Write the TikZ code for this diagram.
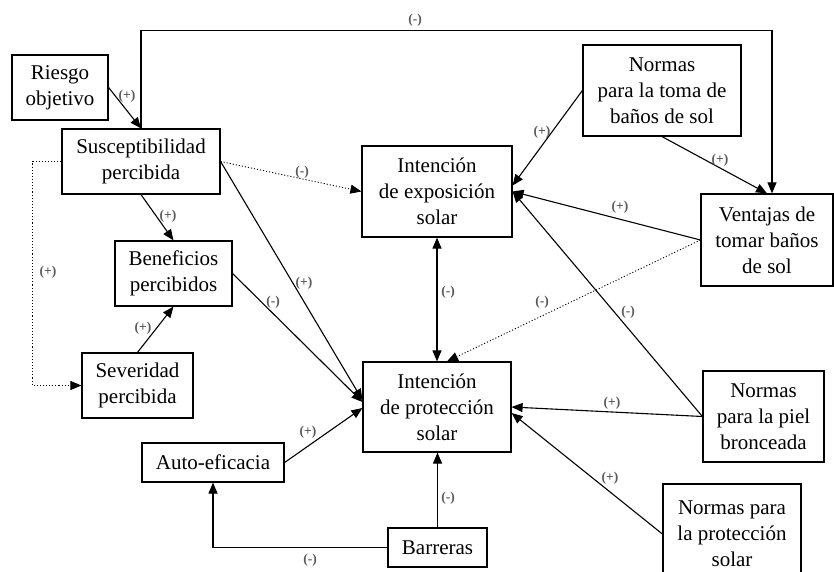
\documentclass[tikz,border=0pt]{standalone}
\usepackage{fontspec}
\setmainfont{Liberation Serif}
\newfontfamily\diagfont{Liberation Serif}
\usetikzlibrary{arrows.meta}
\begin{document}
\begin{tikzpicture}[x=1pt,y=-1pt,
 box/.style={draw, line width=1.2pt, align=center, font=\diagfont\fontsize{21}{26}\selectfont, inner sep=0pt},
 arr/.style={line width=1.1pt, -{Triangle[length=11pt,width=9pt]}},
 arrboth/.style={line width=1.1pt, {Triangle[length=11pt,width=9pt]}-{Triangle[length=11pt,width=9pt]}},
 dot/.style={arr, dotted, line width=0.9pt},
 lab/.style={font=\diagfont\fontsize{13.5}{14}\selectfont\bfseries, text=black!65, inner sep=1pt}
]
\clip (0,0) rectangle (834,572);
\fill[white] (0,0) rectangle (834,572);

% boxes
\node[box, minimum width=96pt, minimum height=65pt] (riesgo) at (60,87.5) {Riesgo\\objetivo};
\node[box, minimum width=158pt, minimum height=65pt] (susc) at (141,161.5) {Susceptibilidad\\percibida};
\node[box, minimum width=150pt, minimum height=91pt] (expo) at (437,191.5) {Intención\\de exposición\\solar};
\node[box, minimum width=158pt, minimum height=91pt] (normtoma) at (662,90.5) {Normas\\para la toma de\\baños de sol};
\node[box, minimum width=132pt, minimum height=92pt] (vent) at (767,240) {Ventajas de\\tomar baños\\de sol};
\node[box, minimum width=117pt, minimum height=65pt] (benef) at (173.5,273.5) {Beneficios\\percibidos};
\node[box, minimum width=111pt, minimum height=65pt] (sever) at (137.5,385.5) {Severidad\\percibida};
\node[box, minimum width=148pt, minimum height=90pt] (prot) at (437,407) {Intención\\de protección\\solar};
\node[box, minimum width=142pt, minimum height=39pt] (auto) at (213,462.5) {Auto-eficacia};
\node[box, minimum width=99pt, minimum height=39pt] (barr) at (437.5,547.5) {Barreras};
\node[box, minimum width=121pt, minimum height=91pt] (normpiel) at (763.5,416.5) {Normas\\para la piel\\bronceada};
\node[box, minimum width=138pt, minimum height=100pt] (normprot) at (732,534) {Normas para\\la protección\\solar};

% connectors
\draw[arr] (susc.north) -- ++(0,-98) -| ([xshift=5pt]vent.north);
\draw[arr] (riesgo.east) -- (susc.north);
\draw[dot] (susc.east) -- (expo.west);
\draw[arr] (susc.south) -- (benef.north);
\draw[arr] (susc.east) -- ([yshift=7pt]prot.west);
\draw[arr] (benef.east) -- ([yshift=5pt]prot.west);
\draw[arr] (sever.north) -- (benef.south);
\draw[dot] (susc.west) -- ++(-29,0) |- (sever.west);
\draw[arr] (auto.east) -- ([yshift=-1pt]prot.west);
\draw[arr] (barr.west) -| (auto.south);
\draw[arr] (barr.north) -- (barr.north |- prot.south);
\draw[arrboth] (expo.south) -- (prot.north);
\draw[arr] (vent.west) -- (expo.east);
\draw[dot] (vent.west) -- ([xshift=10pt]prot.north);
\draw[arr] (normpiel.west) -- (expo.east);
\draw[arr] (normpiel.west) -- (prot.east);
\draw[arr] (normprot.west) -- ([yshift=-6pt]prot.east);
\draw[arr] (normtoma.west) -- ([yshift=6pt]expo.east);
\draw[arr] (normtoma.south) -- (vent.north);

% labels
\node[lab] (l1) at (415,20) {(-)};
\node[lab] (l2) at (127,96) {(+)};
\node[lab] (l3) at (302,172) {(-)};
\node[lab] (l4) at (168,216) {(+)};
\node[lab] (l5) at (304,283) {(+)};
\node[lab] (l6) at (273,302) {(-)};
\node[lab] (l7) at (143,328) {(+)};
\node[lab] (l8) at (48,272) {(+)};
\node[lab] (l9) at (308,432) {(+)};
\node[lab] (l10) at (310,560) {(-)};
\node[lab] (l11) at (448,498) {(-)};
\node[lab] (l12) at (448,292) {(-)};
\node[lab] (l13) at (620,207) {(+)};
\node[lab] (l14) at (542,302) {(-)};
\node[lab] (l15) at (628,312) {(-)};
\node[lab] (l16) at (612,403) {(+)};
\node[lab] (l17) at (610,478) {(+)};
\node[lab] (l18) at (542,132) {(+)};
\node[lab] (l19) at (720,160) {(+)};
\end{tikzpicture}
\end{document}
